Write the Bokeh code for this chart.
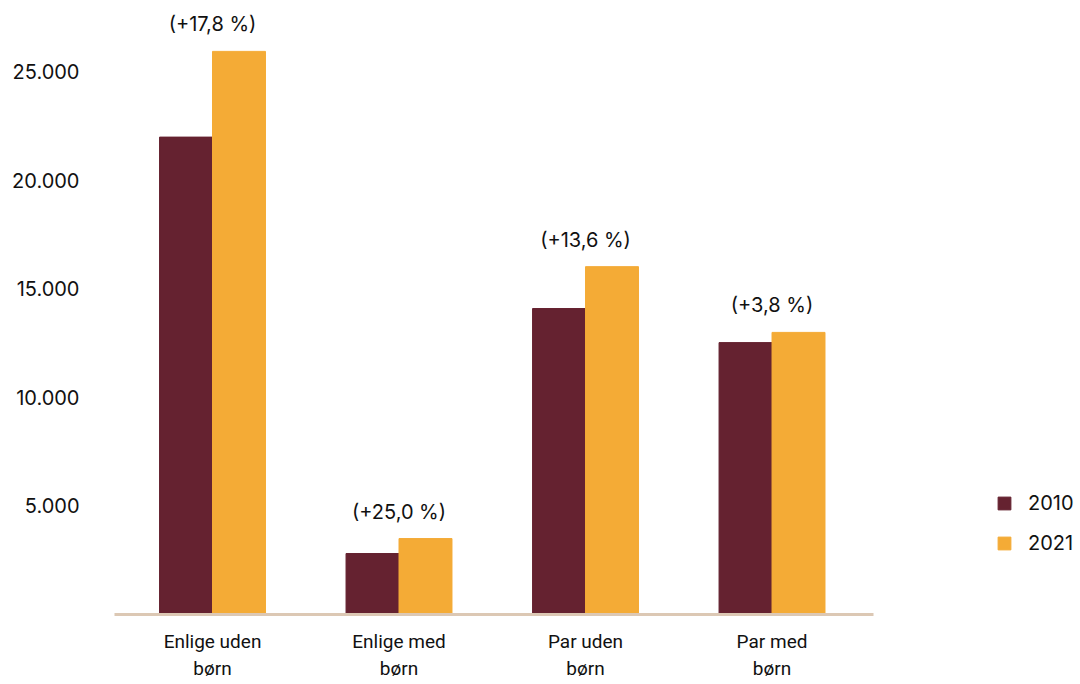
from bokeh.plotting import figure
from bokeh.models import (ColumnDataSource, Range1d, FixedTicker, LabelSet, Legend,
                          LegendItem)
from bokeh.core.properties import value
from bokeh.transform import dodge
from bokeh.embed import file_html
from bokeh.resources import INLINE

categories = ["Enlige uden\nbørn", "Enlige med\nbørn", "Par uden\nbørn", "Par med\nbørn"]
v2010 = [22000, 2810, 14100, 12530]
v2021 = [25950, 3500, 16030, 13000]
changes = ["(+17,8 %)", "(+25,0 %)", "(+13,6 %)", "(+3,8 %)"]
yticks = [5000, 10000, 15000, 20000, 25000]
ytick_labels = ["5.000", "10.000", "15.000", "20.000", "25.000"]

MAROON = "#652230"
ORANGE = "#F4AB36"
BASE = "#DCC8B4"
FONT = "Inter"
XFONT = "Roboto"

xpos = list(range(len(categories)))
src = ColumnDataSource(dict(x=xpos, a=v2010, b=v2021, ch=changes))

X_START, X_END = -0.5255, 3.544
p = figure(width=1080, height=684, output_backend="svg", toolbar_location=None,
           x_range=Range1d(X_START, 4.654), y_range=Range1d(0, 27926))
p.min_border_left = 114
p.min_border_right = 0
p.min_border_top = 8
p.min_border_bottom = 70
p.outline_line_color = None
p.background_fill_color = "white"
p.border_fill_color = "white"
p.xgrid.visible = False
p.ygrid.visible = False

w = 0.284
r1 = p.vbar(x=dodge("x", -w / 2, range=p.x_range), top="a", width=w, source=src,
            fill_color=MAROON, line_color=MAROON)
r2 = p.vbar(x=dodge("x", w / 2, range=p.x_range), top="b", width=w, source=src,
            fill_color=ORANGE, line_color=ORANGE)

# y axis
ya = p.yaxis[0]
ya.ticker = FixedTicker(ticks=yticks)
ya.major_label_overrides = {t: l for t, l in zip(yticks, ytick_labels)}
ya.axis_line_color = None
ya.major_tick_line_color = None
ya.minor_tick_line_color = None
ya.major_label_standoff = 29
ya.major_label_text_font = FONT
ya.major_label_text_font_size = "20px"
ya.major_label_text_color = "#111111"

# x axis: baseline + category labels
xa = p.xaxis[0]
xa.bounds = (X_START, X_END)
xa.ticker = FixedTicker(ticks=xpos)
xa.major_label_overrides = {i: c for i, c in zip(xpos, categories)}
xa.axis_line_color = BASE
xa.axis_line_width = 3
xa.major_tick_line_color = None
xa.minor_tick_line_color = None
xa.major_label_standoff = 9
xa.major_label_text_font = XFONT
xa.major_label_text_font_size = "19px"
xa.major_label_text_color = "#111111"

# change labels
ch_labels = LabelSet(x="x", y="b", text="ch", source=src, y_offset=27,
                     text_align="center", text_baseline="middle",
                     text_font=value(FONT), text_font_size="20px", text_color="#111111")
p.add_layout(ch_labels)

legend = Legend(items=[LegendItem(label="2010", renderers=[r1]),
                       LegendItem(label="2021", renderers=[r2])],
                location=(882, 59), orientation="vertical",
                glyph_width=16, glyph_height=16, label_standoff=16, spacing=16,
                padding=0, margin=0, border_line_color=None,
                background_fill_alpha=0,
                label_text_font=FONT, label_text_font_size="20px",
                label_text_color="#111111")
p.add_layout(legend)

open("out.html", "w").write(file_html(p, INLINE))
